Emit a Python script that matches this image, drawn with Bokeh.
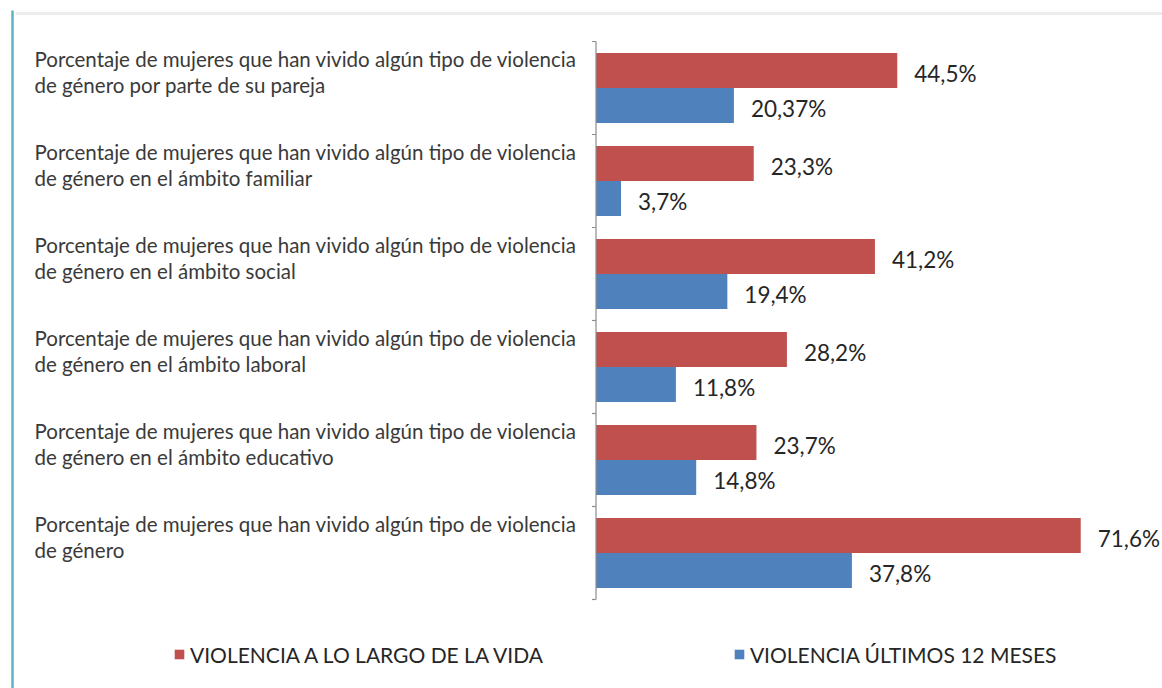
from bokeh.plotting import figure
from bokeh.models import ColumnDataSource, Range1d, Legend, LegendItem
from bokeh.transform import dodge
from bokeh.core.properties import value
from bokeh.embed import file_html
from bokeh.resources import INLINE

# ---------------- data (top to bottom) ----------------
categories = [
    "Porcentaje de mujeres que han vivido algún tipo de violencia\nde género  por parte de su pareja",
    "Porcentaje de mujeres que han vivido algún tipo de violencia\nde género en el ámbito familiar",
    "Porcentaje de mujeres que han vivido algún tipo de violencia\nde género en el ámbito social",
    "Porcentaje de mujeres que han vivido algún tipo de violencia\nde género en el ámbito laboral",
    "Porcentaje de mujeres que han vivido algún tipo de violencia\nde género en el ámbito educativo",
    "Porcentaje de mujeres que han vivido algún tipo de violencia\nde género",
]
vida = [44.5, 23.3, 41.2, 28.2, 23.7, 71.6]
meses = [20.37, 3.7, 19.4, 11.8, 14.8, 37.8]
vida_labels = ["44,5%", "23,3%", "41,2%", "28,2%", "23,7%", "71,6%"]
meses_labels = ["20,37%", "3,7%", "19,4%", "11,8%", "14,8%", "37,8%"]
series_names = ["VIOLENCIA A LO LARGO DE LA VIDA", "VIOLENCIA ÚLTIMOS 12 MESES"]

RED = "#C0504D"
BLUE = "#4F81BD"
FONT = "Lato"

W, H = 1162, 688
PX = 6.77           # pixels per percent
PY = 93.0           # pixels per category
AXIS_X = 595.5      # canvas x of the value axis
X0 = -AXIS_X / PX
X1 = X0 + W / PX
Y1 = 5 + 87.5 / PY
Y0 = Y1 - H / PY

n = len(categories)
pos = [n - 1 - i for i in range(n)]
line1 = [c.split("\n")[0] for c in categories]
line2 = [c.split("\n")[1] if "\n" in c else "" for c in categories]

src = ColumnDataSource(dict(pos=pos, vida=vida, meses=meses,
                            vida_lbl=vida_labels, meses_lbl=meses_labels,
                            line1=line1, line2=line2))

p = figure(width=W, height=H, x_range=Range1d(X0, X1), y_range=Range1d(Y0, Y1),
           x_axis_type=None, y_axis_type=None, output_backend="svg",
           toolbar_location=None, min_border=0)
p.grid.visible = False
p.outline_line_color = None
p.background_fill_color = "white"

# frame decorations
p.segment(x0=X0 + 12 / PX, y0=Y0, x1=X0 + 12 / PX, y1=Y1 - 10 / PY,
          line_color="#5AB4C8", line_width=2.5)
p.segment(x0=X0 + 15 / PX, y0=Y1 - 13 / PY, x1=X1, y1=Y1 - 13 / PY,
          line_color="#EDEDED", line_width=3)

BH = 0.376
OFF = 0.188
r1 = p.hbar(y=dodge("pos", OFF), left=0, right="vida", height=BH, source=src,
            fill_color=RED, line_color=None)
r2 = p.hbar(y=dodge("pos", -OFF), left=0, right="meses", height=BH, source=src,
            fill_color=BLUE, line_color=None)

# axis line and ticks
bounds = [i - 0.5 for i in range(n + 1)]
p.segment(x0=0, y0=bounds[0], x1=0, y1=bounds[-1], line_color="#8C8C8C", line_width=1.2)
p.segment(x0=[-4 / PX] * len(bounds), y0=bounds, x1=[0] * len(bounds), y1=bounds,
          line_color="#8C8C8C", line_width=1.2)

# value labels
p.text(x="vida", y=dodge("pos", OFF - 0.03), text="vida_lbl", source=src, x_offset=17,
       text_baseline="middle", text_font=value(FONT), text_font_size="22.5px",
       text_color="#262626")
p.text(x="meses", y=dodge("pos", -OFF - 0.03), text="meses_lbl", source=src, x_offset=17,
       text_baseline="middle", text_font=value(FONT), text_font_size="22.5px",
       text_color="#262626")

# category labels
p.text(x=X0, y=dodge("pos", 0.315), text="line1", source=src, x_offset=34,
       text_baseline="middle", text_align="left", text_font=value(FONT),
       text_font_size="20.5px", text_color="#3A3A3A")
p.text(x=X0, y=dodge("pos", 0.035), text="line2", source=src, x_offset=34,
       text_baseline="middle", text_align="left", text_font=value(FONT),
       text_font_size="20.5px", text_color="#3A3A3A")

legend = Legend(items=[LegendItem(label=series_names[0], renderers=[r1]),
                       LegendItem(label=series_names[1], renderers=[r2])],
                orientation="horizontal", location=(173, 21),
                border_line_color=None, background_fill_alpha=0,
                padding=0, margin=0, spacing=190, glyph_width=12, glyph_height=12,
                label_standoff=5, label_text_font=FONT, label_text_font_size="21px",
                label_text_color="#262626", label_height=26)
p.add_layout(legend)

open("out.html", "w").write(file_html(p, INLINE))
